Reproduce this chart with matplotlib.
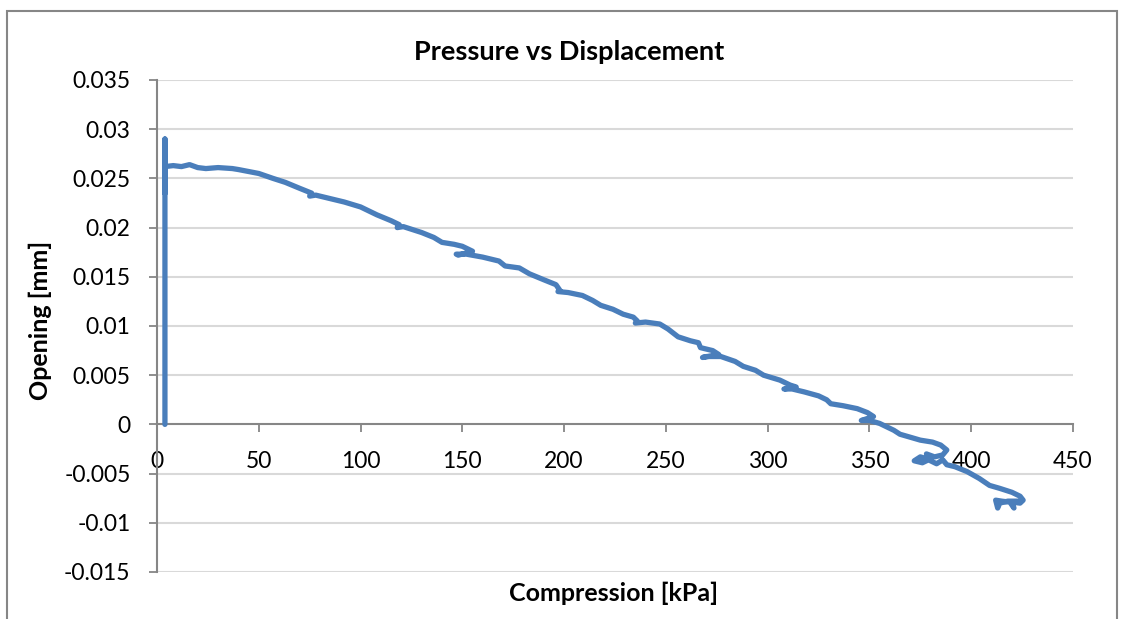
import matplotlib
matplotlib.use("Agg")
import matplotlib.pyplot as plt
from matplotlib.patches import Rectangle

plt.rcParams['font.family'] = ['Lato', 'DejaVu Sans']

# compression [kPa] and opening [mm] readings, in logging order
compression = [
    3.9, 3.9, 3.9, 3.9,
    8, 12, 16, 20, 24, 30, 37, 40, 45, 50, 57, 63, 70, 76, 75, 78, 86, 92,
    100, 108, 115, 119, 118, 121, 130, 136, 140, 146, 150, 155, 148, 147,
    152, 160, 168, 171, 178, 183, 190, 196, 198, 197, 202, 209, 214, 218,
    224, 229, 234, 236, 235, 240, 247, 251, 256, 262, 266, 267, 273, 276,
    268, 270, 277, 284, 288, 294, 298, 306, 311, 314, 308, 312, 318, 325,
    329, 331, 337, 344, 349, 352, 346, 350, 355, 359, 362, 365, 370, 375,
    381, 385, 388, 386, 382, 378, 380, 375, 372, 376, 379, 383, 386, 388,
    392, 398, 404, 409, 414, 420, 424, 425.5, 424, 420, 421, 419, 415, 412,
    413, 414, 418, 423,
]
opening = [
    0.0, 0.029, 0.0235, 0.0262,
    0.0263, 0.0262, 0.0264, 0.0261, 0.0260, 0.0261, 0.0260, 0.0259, 0.0257,
    0.0255, 0.0250, 0.0246, 0.0240, 0.0235, 0.0232, 0.0233, 0.0229, 0.0226,
    0.0221, 0.0213, 0.0207, 0.0203, 0.0200, 0.0201, 0.0195, 0.0190, 0.0185,
    0.0183, 0.0181, 0.0176, 0.0172, 0.0173, 0.0173, 0.0170, 0.0166, 0.0161,
    0.0159, 0.0153, 0.0147, 0.0142, 0.0136, 0.0135, 0.0134, 0.0131, 0.0126,
    0.0121, 0.0117, 0.0112, 0.0109, 0.0105, 0.0103, 0.0104, 0.0102, 0.0097,
    0.0089, 0.0085, 0.0083, 0.0078, 0.0075, 0.0071, 0.0068, 0.0069, 0.0069,
    0.0064, 0.0059, 0.0055, 0.0050, 0.0045, 0.0040, 0.0038, 0.0036, 0.0036,
    0.0033, 0.0029, 0.0025, 0.0021, 0.0019, 0.0016, 0.0012, 0.0008, 0.0004,
    0.0004, 0.0001, -0.0003, -0.0006, -0.0010, -0.0013, -0.0016, -0.0018,
    -0.0021, -0.0026, -0.0031, -0.0033, -0.0030, -0.0036, -0.0033, -0.0037,
    -0.0039, -0.0036, -0.0040, -0.0036, -0.0041, -0.0043, -0.0048, -0.0055,
    -0.0062, -0.0065, -0.0069, -0.0073, -0.0077, -0.0080, -0.0079, -0.0085,
    -0.0079, -0.0078, -0.0077, -0.0085, -0.0080, -0.0078, -0.0078,
]

x_ticks = [0, 50, 100, 150, 200, 250, 300, 350, 400, 450]
y_ticks = [0.035, 0.03, 0.025, 0.02, 0.015, 0.01, 0.005, 0, -0.005, -0.01, -0.015]
y_labels = ["0.035", "0.03", "0.025", "0.02", "0.015", "0.01", "0.005", "0",
            "-0.005", "-0.01", "-0.015"]

W, H = 1123, 619
fig = plt.figure(figsize=(W / 100, H / 100), dpi=100)
ax = fig.add_axes([157 / W, 1 - 572 / H, 916 / W, 492 / H])

# chart frame
fig.patches.append(Rectangle((7 / W, -0.05), 1110 / W, 1 - 11 / H + 0.05,
                             transform=fig.transFigure, fill=False,
                             edgecolor="#868686", lw=1.5))

ax.plot(compression, opening, color="#4a7ebb", lw=3.8,
        solid_capstyle="round", solid_joinstyle="round", zorder=3)

ax.set_xlim(0, 450)
ax.set_ylim(-0.015, 0.035)
ax.set_xticks(x_ticks)
ax.set_yticks(y_ticks)
ax.set_yticklabels(y_labels)

for y in y_ticks:
    if y != 0:
        ax.axhline(y, color="#d9d9d9", lw=1.5, zorder=1)

ax.spines["top"].set_visible(False)
ax.spines["right"].set_visible(False)
ax.spines["bottom"].set_position(("data", 0))
for s in ("left", "bottom"):
    ax.spines[s].set_color("#868686")
    ax.spines[s].set_linewidth(1.5)
    ax.spines[s].set_zorder(2)

ax.tick_params(axis="both", direction="out", length=6, width=1.3,
               color="#868686", labelsize=16.5, labelcolor="black")
ax.tick_params(axis="y", pad=13)
ax.tick_params(axis="x", pad=13)

fig.text(569 / W, 1 - 52 / H, "Pressure vs Displacement", ha="center",
         va="center", fontsize=19.5, fontweight="bold")
fig.text(614 / W, 1 - 593 / H, "Compression [kPa]", ha="center",
         va="center", fontsize=18, fontweight="bold")
fig.text(40 / W, 1 - 320 / H, "Opening [mm]", ha="center", va="center",
         rotation=90, fontsize=18, fontweight="bold")

fig.savefig("out.png", dpi=100)
